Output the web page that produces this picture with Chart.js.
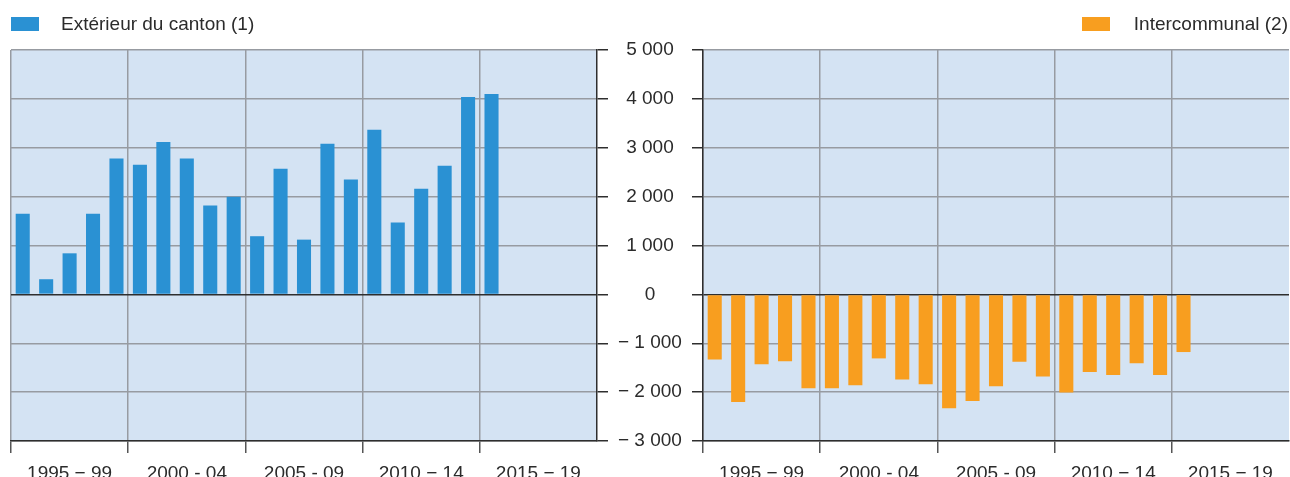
<!DOCTYPE html>
<html>
<head>
<meta charset="utf-8">
<script src="https://cdn.jsdelivr.net/npm/chart.js@4/dist/chart.umd.min.js"></script>
<style>
  html, body { margin: 0; padding: 0; background: #fff; overflow: hidden; }
  #wrap { position: relative; width: 1290px; height: 477px; overflow: hidden;
          font-family: "Liberation Sans", Arial, sans-serif; color: #2b2b2b; }
  canvas { position: absolute; top: 0; }
  #chartLeft { left: 0; }
  #chartRight { left: 692px; }
  .box { position: absolute; top: 17px; width: 28px; height: 14px; }
  .lbl { position: absolute; top: 13px; font-size: 19px; line-height: 22px; white-space: nowrap; }
</style>
</head>
<body>
<div id="wrap">
  <canvas id="chartLeft" width="700" height="477"></canvas>
  <canvas id="chartRight" width="598" height="477"></canvas>
  <span class="box" style="left:11px;background:#2a91d3"></span>
  <span class="lbl" style="left:61px">Extérieur du canton (1)</span>
  <span class="box" style="left:1082px;background:#f89e1f"></span>
  <span class="lbl" style="right:2px">Intercommunal (2)</span>
</div>
<script>
const years = [1995, 1996, 1997, 1998, 1999, 2000, 2001, 2002, 2003, 2004,
               2005, 2006, 2007, 2008, 2009, 2010, 2011, 2012, 2013, 2014,
               2015, 2016, 2017, 2018, 2019];
const periodLabels = ['1995 − 99', '2000 - 04', '2005 - 09', '2010 − 14', '2015 − 19'];

// Extérieur du canton (1)
const exterieur = [1650, 310, 840, 1650, 2780, 2650, 3120, 2780, 1820, 2000,
                   1190, 2570, 1120, 3080, 2350, 3370, 1470, 2160, 2630, 4040,
                   4100, null, null, null, null];
// Intercommunal (2)
const intercommunal = [-1330, -2200, -1430, -1370, -1920, -1920, -1860, -1310, -1740, -1840,
                       -2330, -2180, -1880, -1380, -1680, -2010, -1590, -1650, -1410, -1650,
                       -1180, null, null, null, null];

const gridGray = '#979ba1';
const darkLine = '#2e2e2e';
const tickFont = { family: '"Liberation Sans", Arial, sans-serif', size: 19 };

// light blue plot background
const plotBackground = {
  id: 'plotBackground',
  beforeDraw(chart) {
    const { ctx, chartArea: a } = chart;
    ctx.save();
    ctx.fillStyle = '#d4e3f3';
    ctx.fillRect(a.left, a.top, a.right - a.left, a.bottom - a.top);
    ctx.restore();
  }
};

function formatValue(v) {
  if (v === 0) return '0';
  const s = String(Math.abs(v)).replace(/\B(?=(\d{3})+(?!\d))/g, ' ');
  return v < 0 ? '− ' + s : s;
}

function makeChart(canvasId, values, color, isLeft) {
  const ctx = document.getElementById(canvasId).getContext('2d');
  return new Chart(ctx, {
    type: 'bar',
    data: {
      labels: years,
      datasets: [{
        data: values,
        backgroundColor: color,
        barPercentage: 0.6,
        categoryPercentage: 1
      }]
    },
    options: {
      responsive: false,
      animation: false,
      layout: { padding: isLeft ? { left: 11, top: 50, right: 0, bottom: 0 }
                                : { left: 0, top: 50, right: 1, bottom: 0 } },
      plugins: { legend: { display: false }, tooltip: { enabled: false } },
      scales: {
        x: {
          offset: true,
          grid: {
            offset: true,
            color: c => c.index % 5 === 0 ? gridGray : 'transparent',
            tickColor: c => c.index % 5 === 0 ? '#555' : 'transparent',
            tickLength: 12,
            lineWidth: 1.5
          },
          border: { display: true, color: darkLine, width: 1.5 },
          ticks: {
            autoSkip: false,
            maxRotation: 0,
            minRotation: 0,
            padding: 9,
            color: '#2b2b2b',
            font: tickFont,
            callback: (v, i) => i % 5 === 2 ? periodLabels[Math.floor(i / 5)] : ''
          },
          afterFit: s => { s.height = 36; }
        },
        y: {
          position: isLeft ? 'right' : 'left',
          min: -3000,
          max: 5000,
          grid: {
            color: c => (c.tick && c.tick.value === 0) ? darkLine : gridGray,
            tickColor: darkLine,
            tickLength: 11,
            lineWidth: 1.5
          },
          border: { display: true, color: darkLine, width: 1.5 },
          ticks: {
            stepSize: 1000,
            padding: 10,
            crossAlign: 'center',
            color: '#2b2b2b',
            font: tickFont,
            callback: v => isLeft ? formatValue(v) : ''
          },
          afterFit: s => { s.width = isLeft ? 103 : 11; }
        }
      }
    },
    plugins: [plotBackground]
  });
}

makeChart('chartLeft', exterieur, '#2a91d3', true);
makeChart('chartRight', intercommunal, '#f89e1f', false);
</script>
</body>
</html>
